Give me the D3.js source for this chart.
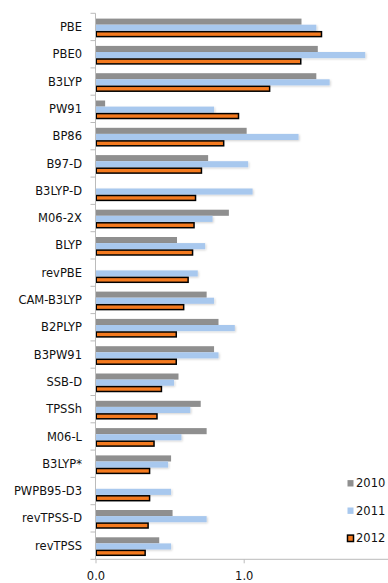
<!DOCTYPE html>
<html>
<head>
<meta charset="utf-8">
<script src="https://cdn.jsdelivr.net/npm/d3@7"></script>
<style>
  html, body { margin: 0; padding: 0; background: #fff; }
  svg { display: block; }
  text { font-family: "DejaVu Sans", Verdana, sans-serif; fill: #111; }
</style>
</head>
<body>
<svg id="chart" width="388" height="583"></svg>
<script>
// Functionals, top to bottom
const categories = ["PBE", "PBE0", "B3LYP", "PW91", "BP86", "B97-D", "B3LYP-D", "M06-2X",
  "BLYP", "revPBE", "CAM-B3LYP", "B2PLYP", "B3PW91", "SSB-D", "TPSSh", "M06-L",
  "B3LYP*", "PWPB95-D3", "revTPSS-D", "revTPSS"];
const seriesNames = ["2010", "2011", "2012"];
const values2010 = [1.39, 1.50, 1.49, 0.065, 1.02, 0.76, null, 0.90,
  0.55, null, 0.75, 0.83, 0.80, 0.56, 0.71, 0.75,
  0.51, null, 0.52, 0.43];
const values2011 = [1.49, 1.82, 1.58, 0.80, 1.37, 1.03, 1.06, 0.79,
  0.74, 0.69, 0.80, 0.94, 0.83, 0.53, 0.64, 0.58,
  0.49, 0.51, 0.75, 0.51];
const values2012 = [1.53, 1.39, 1.18, 0.97, 0.87, 0.72, 0.68, 0.67,
  0.66, 0.63, 0.60, 0.55, 0.55, 0.45, 0.42, 0.40,
  0.37, 0.37, 0.36, 0.34];
const xTicks = [0, 1];

const seriesValues = [values2010, values2011, values2012];
const fills = ["#8f8f8f", "#a8c8ee", "#f47a1f"];
const strokes = [null, null, "#000"];

const svg = d3.select("#chart");
const margin = { left: 95.5, top: 13.3, bottom: 559.3 };

const x = d3.scaleLinear().domain([0, 2]).range([margin.left, margin.left + 296.4]);
const y = d3.scaleBand().domain(categories).range([margin.top, margin.bottom]).padding(0);
const yInner = d3.scaleBand().domain(seriesNames).range([5.3, 23.6]).padding(0);

const defs = svg.append("defs");
const shadow = defs.append("filter").attr("id", "soft").attr("x", "-5%").attr("y", "-40%")
  .attr("width", "110%").attr("height", "200%");
shadow.append("feDropShadow").attr("dx", 1).attr("dy", 1).attr("stdDeviation", 0.8)
  .attr("flood-color", "#000").attr("flood-opacity", 0.18);

// bars
const groups = svg.append("g").selectAll("g")
  .data(categories)
  .join("g")
  .attr("transform", d => `translate(0,${y(d)})`);

seriesNames.forEach((name, si) => {
  groups.each(function(cat, ci) {
    const v = seriesValues[si][ci];
    if (v == null) return;
    const r = d3.select(this).append("rect")
      .attr("x", x(0))
      .attr("y", yInner(name))
      .attr("width", x(v) - x(0))
      .attr("height", yInner.bandwidth())
      .attr("fill", fills[si]);
    if (si === 1) r.attr("filter", "url(#soft)");
    if (strokes[si]) {
      r.attr("x", x(0) + 0.75)
        .attr("y", yInner(name) + 0.9)
        .attr("width", x(v) - x(0) - 1.5)
        .attr("height", yInner.bandwidth() - 1.2)
        .attr("stroke", strokes[si]).attr("stroke-width", 1.5);
    }
  });
});

// category axis
const yAxis = svg.append("g")
  .attr("transform", `translate(${x(0)},0)`);
yAxis.append("line")
  .attr("x1", 0).attr("x2", 0)
  .attr("y1", margin.top).attr("y2", margin.bottom)
  .attr("stroke", "#bbb").attr("stroke-width", 1);
const boundaries = categories.map(c => y(c)).concat([margin.bottom]);
yAxis.selectAll(".tk").data(boundaries).join("line")
  .attr("x1", -5).attr("x2", 0)
  .attr("y1", d => d).attr("y2", d => d)
  .attr("stroke", "#bbb");
yAxis.selectAll("text").data(categories).join("text")
  .attr("x", -13.5)
  .attr("y", d => y(d) + y.bandwidth() / 2)
  .attr("dy", "0.36em")
  .attr("text-anchor", "end")
  .attr("font-size", 11.5)
  .text(d => d);

// value axis
const xAxis = svg.append("g").attr("transform", `translate(0,${margin.bottom})`)
  .call(d3.axisBottom(x).tickValues(xTicks).tickFormat(d3.format(".1f")).tickSize(4).tickPadding(9));
xAxis.select(".domain").attr("stroke", "#bbb").attr("d", `M${x(0)},0H388`);
xAxis.selectAll(".tick line").attr("stroke", "#bbb");
xAxis.selectAll("text").attr("font-size", 11.5).attr("font-family", "DejaVu Sans, sans-serif").attr("fill", "#111");

// legend
const legend = svg.append("g").attr("transform", "translate(347,0)");
const legendY = [483.3, 510.7, 538.3];
seriesNames.forEach((name, i) => {
  const g = legend.append("g").attr("transform", `translate(0,${legendY[i]})`);
  g.append("rect")
    .attr("x", 0.5).attr("y", -3.2)
    .attr("width", 6).attr("height", 6.4)
    .attr("fill", fills[i])
    .attr("stroke", strokes[i] || "none")
    .attr("stroke-width", 1.5);
  g.append("text")
    .attr("x", 9).attr("dy", "0.36em")
    .attr("font-size", 11.5)
    .text(name);
});
</script>
</body>
</html>
